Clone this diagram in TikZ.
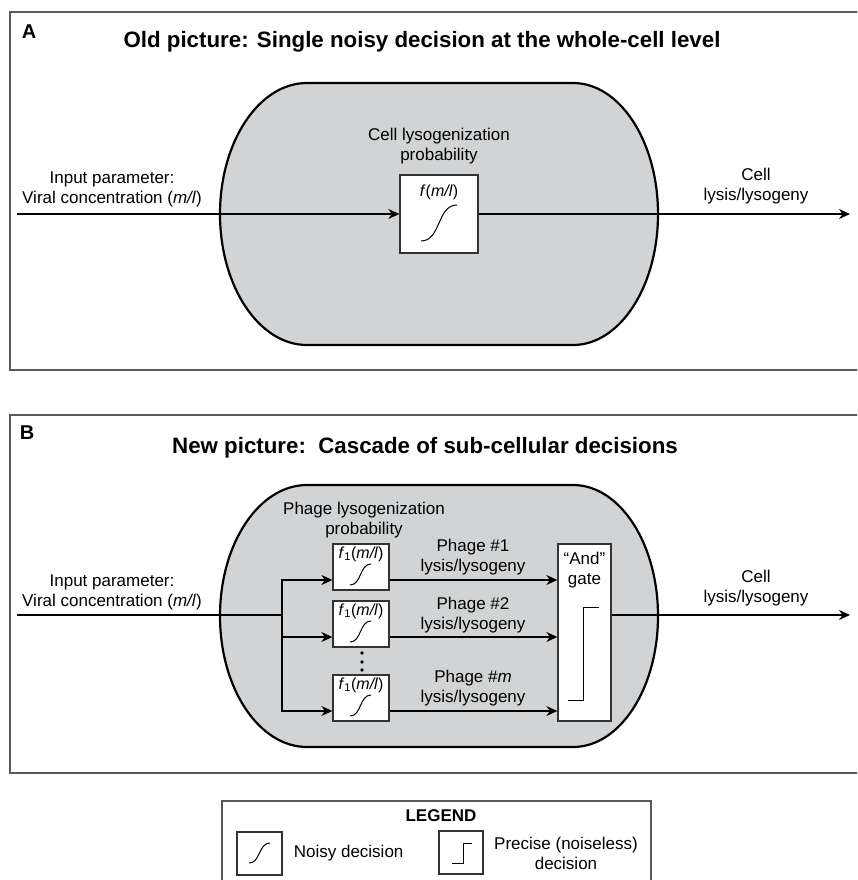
\documentclass[tikz,border=0pt]{standalone}
\usepackage{fontspec}
\setmainfont{Liberation Sans}
\usetikzlibrary{arrows.meta,positioning}
\definecolor{cellgray}{HTML}{D1D3D4}
\tikzstyle{arrow} = [line width=1.3pt,-{Stealth[length=11pt,width=10pt]}]
\tikzstyle{wire} = [line width=1.3pt]
\tikzstyle{panel} = [draw=black!65, line width=1.3pt]
\tikzstyle{cell} = [draw=black, line width=2.2pt, fill=cellgray]
\tikzstyle{fbox} = [draw=black!80, line width=1.3pt, fill=white, inner sep=0pt]
\tikzstyle{curve} = [line width=1pt]
\tikzstyle{lbl} = [align=center, inner sep=0pt, font=\fontsize{17}{20}\selectfont]
\tikzstyle{flbl} = [inner sep=0pt, font=\fontsize{16}{19}\selectfont]
\tikzstyle{paneltitle} = [inner sep=0pt, font=\fontsize{22.3}{26}\selectfont\bfseries]
\tikzstyle{letter} = [inner sep=0pt, font=\fontsize{20}{24}\selectfont\bfseries]

\begin{document}
\begin{tikzpicture}[x=1pt,y=-1pt]
    \useasboundingbox (0,0) rectangle (857,880);
    \clip (0,0) rectangle (857,880);

    % panel A
    \draw[panel] (10,12) rectangle (875,370);
    \node[letter] (letA) at (29,32) {A};
    \node[paneltitle] (titleA) at (422,42) {Old picture: Single noisy decision at the whole-cell level};
    \draw[cell] (307,83) -- (573,83) arc[start angle=-90, end angle=90, x radius=85, y radius=131] -- (307,345) arc[start angle=90, end angle=270, x radius=87, y radius=131] -- cycle;

    \node[fbox, minimum width=78, minimum height=78] (fA) at (439,214) {};
    \node[flbl] (fAtxt) at (439,192) {\textit{f}(\textit{m/l})};
    \draw[curve] (421,241) .. controls (441,241) and (437,205) .. (457,205);
    \node[lbl] (probA) at (439,146) {Cell lysogenization\\probability};

    \coordinate (inA) at (17,214);
    \coordinate (outA) at (850,214);
    \draw[arrow] (inA) -- (fA);
    \draw[arrow] (fA) -- (outA);
    \node[lbl] (inlblA) at (112,189) {Input parameter:\\Viral concentration (\textit{m/l})};
    \node[lbl] (outlblA) at (756,186) {Cell\\lysis/lysogeny};

    % panel B
    \draw[panel] (10,415) rectangle (875,773);
    \node[letter] (letB) at (27,433) {B};
    \node[paneltitle] (titleB) at (425,448) {New picture:\ \ Cascade of sub-cellular decisions};
    \draw[cell] (307,485) -- (573,485) arc[start angle=-90, end angle=90, x radius=85, y radius=131] -- (307,747) arc[start angle=90, end angle=270, x radius=87, y radius=131] -- cycle;

    \node[fbox, minimum width=56, minimum height=46] (f1) at (361,567) {};
    \node[fbox, minimum width=56, minimum height=46] (f2) at (361,624) {};
    \node[fbox, minimum width=56, minimum height=46] (fm) at (361,698) {};
    \node[flbl] (f1txt) at ([yshift=13pt]f1.center) {\textit{f}\textsubscript{1}(\textit{m/l})};
    \node[flbl] (f2txt) at ([yshift=13pt]f2.center) {\textit{f}\textsubscript{1}(\textit{m/l})};
    \node[flbl] (fmtxt) at ([yshift=13pt]fm.center) {\textit{f}\textsubscript{1}(\textit{m/l})};
    \draw[curve] (350,585) .. controls (361.5,585) and (359.5,564) .. (371,564);
    \draw[curve] (350,642) .. controls (361.5,642) and (359.5,621) .. (371,621);
    \draw[curve] (350,716) .. controls (361.5,716) and (359.5,695) .. (371,695);
    \foreach \y in {653,662,670}
        \fill (362,\y) circle[radius=1.8pt];
    \node[lbl] (probB) at (364,520) {Phage lysogenization\\probability};

    \node[fbox, minimum width=53, minimum height=177] (gate) at (584.5,632.5) {};
    \node[lbl] (gatetxt) at (584.5,570) {“And”\\gate};
    \draw[curve] (568,700) -- (583,700) -- (583,607) -- (599,607);

    \coordinate (inB) at (17,615);
    \coordinate (split) at (282,615);
    \coordinate (outB) at (850,615);
    \draw[wire] (inB) -- (split);
    \draw[arrow] (split) |- ([yshift=-13pt]f1.west);
    \draw[arrow] (split) |- ([yshift=-13pt]f2.west);
    \draw[arrow] (split) |- ([yshift=-13pt]fm.west);
    \draw[arrow] ([yshift=-13pt]f1.east) -- ([yshift=-13pt]f1.east -| gate.west);
    \draw[arrow] ([yshift=-13pt]f2.east) -- ([yshift=-13pt]f2.east -| gate.west);
    \draw[arrow] ([yshift=-13pt]fm.east) -- ([yshift=-13pt]fm.east -| gate.west);
    \draw[arrow] (gate.east |- outB) -- (outB);

    \node[lbl] (ph1) at (473,557) {Phage \#1\\lysis/lysogeny};
    \node[lbl] (ph2) at (473,615) {Phage \#2\\lysis/lysogeny};
    \node[lbl] (phm) at (473,688) {Phage \#\textit{m}\\lysis/lysogeny};
    \node[lbl] (inlblB) at (112,592) {Input parameter:\\Viral concentration (\textit{m/l})};
    \node[lbl] (outlblB) at (756,588) {Cell\\lysis/lysogeny};

    % legend
    \draw[panel] (222,801) rectangle (651,895);
    \node[lbl, font=\fontsize{17}{20}\selectfont\bfseries] (legtitle) at (441,816) {LEGEND};
    \node[fbox, minimum width=45, minimum height=43] (noisy) at (259.5,853.5) {};
    \draw[curve] (249,863) .. controls (260.5,863) and (258.5,843) .. (270,843);
    \node[lbl, right=11pt of noisy] (noisytxt) {Noisy decision};
    \node[fbox, minimum width=44, minimum height=43] (precise) at (461,852.5) {};
    \draw[curve] (452,863) -- (463,863) -- (463,843) -- (472,843);
    \node[lbl] (precisetxt) at (566,853) {Precise (noiseless)\\decision};
\end{tikzpicture}
\end{document}
